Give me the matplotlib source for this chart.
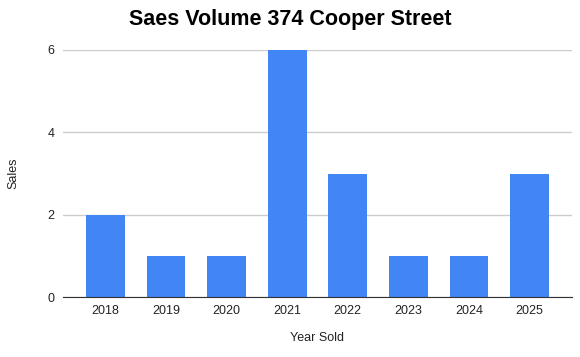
import matplotlib
matplotlib.use("Agg")
import matplotlib.pyplot as plt

years = ["2018", "2019", "2020", "2021", "2022", "2023", "2024", "2025"]
sales = [2, 1, 1, 6, 3, 1, 1, 3]
y_ticks = [0, 2, 4, 6]

plt.rcParams['font.family'] = ['Liberation Sans', 'DejaVu Sans']

fig = plt.figure(figsize=(5.8, 3.57), dpi=100)
ax = fig.add_axes([63/580, 1-297/357, (572-63)/580, (297-50)/357])

x = list(range(len(years)))
ax.bar(x, sales, width=0.64, color="#4285F4", zorder=3)
ax.set_xlim(-0.7, len(years) - 0.3)
ax.set_ylim(0, 6)
ax.set_yticks(y_ticks)
ax.set_xticks(x)
ax.set_xticklabels(years)
ax.yaxis.grid(True, color="#cccccc", linewidth=1, zorder=0)
for s in ["top", "right", "left"]:
    ax.spines[s].set_visible(False)
ax.spines["bottom"].set_color("#333333")
ax.spines["bottom"].set_zorder(4)
ax.tick_params(axis="both", length=0, labelsize=9, colors="#222222")
ax.tick_params(axis="y", pad=6)
ax.tick_params(axis="x", pad=6)
fig.text(317/580, 1-338/357, "Year Sold", ha="center", va="center", fontsize=9, color="#222222")
fig.text(13/580, 1-173/357, "Sales", ha="center", va="center", rotation=90, fontsize=9, color="#222222")
fig.text(0.5, 1-20/357, "Saes Volume 374 Cooper Street", ha="center", va="center",
         fontsize=15.5, fontweight="bold", color="#000000")

fig.savefig("out.png", dpi=100)
